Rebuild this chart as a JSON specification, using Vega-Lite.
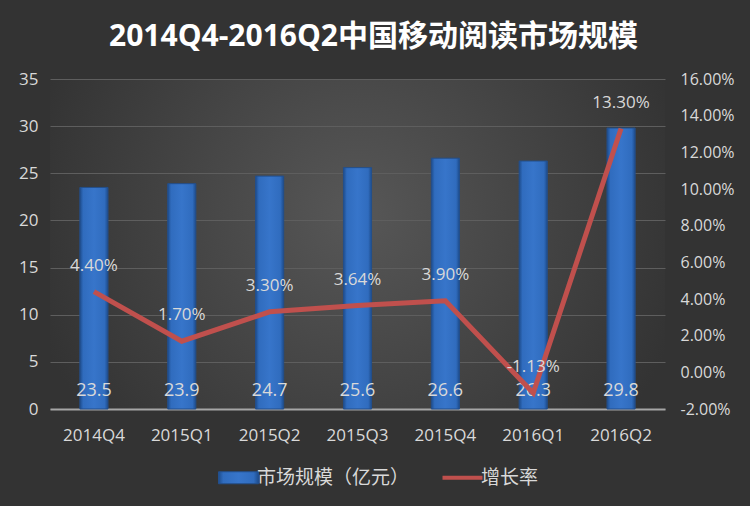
{
  "$schema": "https://vega.github.io/schema/vega-lite/v6.json",
  "width": 615,
  "height": 330,
  "autosize": {"type": "none"},
  "padding": {"left": 50, "top": 79, "right": 85, "bottom": 97},
  "background": "#333333",
  "config": {
    "view": {
      "stroke": null,
      "fill": {
        "gradient": "radial", "x1": 0.5, "y1": 0.45, "r1": 0, "x2": 0.5, "y2": 0.45, "r2": 0.55,
        "stops": [{"offset": 0, "color": "#575757"}, {"offset": 1, "color": "#333333"}]
      }
    },
    "locale": {"number": {"decimal": ".", "thousands": ",", "grouping": [3], "currency": ["", ""], "minus": "-"}},
    "axis": {"labelColor": "#d9d9d9", "labelFont": "Open Sans, Noto Sans CJK SC", "labelFontSize": 16, "title": null, "labelOverlap": false},
    "legend": {"labelColor": "#d9d9d9", "labelFont": "Noto Sans CJK SC", "labelFontSize": 19}
  },
  "title": {
    "text": "2014Q4-2016Q2中国移动阅读市场规模",
    "font": "Open Sans, Noto Sans CJK SC",
    "fontSize": 30,
    "fontWeight": "bold",
    "color": "#ffffff",
    "offset": 18,
    "dx": 16,
    "anchor": "middle"
  },
  "data": {
    "values": [
      {"q": "2014Q4", "size": 23.5, "rate": 0.044},
      {"q": "2015Q1", "size": 23.9, "rate": 0.017},
      {"q": "2015Q2", "size": 24.7, "rate": 0.033},
      {"q": "2015Q3", "size": 25.6, "rate": 0.0364},
      {"q": "2015Q4", "size": 26.6, "rate": 0.039},
      {"q": "2016Q1", "size": 26.3, "rate": -0.0113},
      {"q": "2016Q2", "size": 29.8, "rate": 0.133}
    ]
  },
  "encoding": {
    "x": {
      "field": "q", "type": "nominal", "sort": null,
      "scale": {"paddingInner": 0.68, "paddingOuter": 0.34},
      "axis": {"labelAngle": 0, "ticks": false, "domainColor": "#a6a6a6", "domainWidth": 2, "labelPadding": 18, "labelFontSize": 17}
    }
  },
  "layer": [
    {
      "layer": [
        {
          "mark": {
            "type": "bar",
            "fill": {
              "gradient": "linear", "x1": 0, "x2": 1, "y1": 0, "y2": 0,
              "stops": [
                {"offset": 0, "color": "#1d4c8c"},
                {"offset": 0.12, "color": "#306cbe"},
                {"offset": 0.5, "color": "#3775ca"},
                {"offset": 0.88, "color": "#306cbe"},
                {"offset": 1, "color": "#1d4c8c"}
              ]
            }
          },
          "encoding": {
            "y": {
              "field": "size", "type": "quantitative",
              "scale": {"domain": [0, 35]},
              "axis": {"values": [0, 5, 10, 15, 20, 25, 30, 35], "domain": false, "ticks": false, "gridColor": "#5e5e5e", "gridWidth": 1, "labelPadding": 12, "labelFontSize": 17}
            },
            "stroke": {
              "datum": "市场规模（亿元）",
              "type": "nominal",
              "scale": {"domain": ["市场规模（亿元）", "增长率"], "range": ["#234f8c", "#c0504d"]},
              "legend": {
                "orient": "none",
                "legendX": 179,
                "legendY": 389,
                "direction": "horizontal",
                "title": null,
                "symbolSize": 1600,
                "columnPadding": 24,
                "labelOffset": 9,
                "symbolType": {"expr": "datum.value === '增长率' ? 'M-1,0H1' : 'M-1,-0.3H1V0.3H-1Z'"},
                "symbolStrokeWidth": {"expr": "datum.value === '增长率' ? 4 : 1"}
              }
            }
          }
        },
        {
          "mark": {"type": "text", "color": "#d9d9d9", "fontSize": 18, "font": "Open Sans", "dy": -18},
          "encoding": {
            "y": {"datum": 0, "type": "quantitative",
              "axis": {"values": [0, 5, 10, 15, 20, 25, 30, 35], "domain": false, "ticks": false, "gridColor": "#5e5e5e", "gridWidth": 1, "labelPadding": 12, "labelFontSize": 17}},
            "text": {"field": "size", "type": "quantitative", "format": ".1f"}
          }
        }
      ]
    },
    {
      "layer": [
        {
          "mark": {"type": "line", "strokeWidth": 5},
          "encoding": {
            "y": {
              "field": "rate", "type": "quantitative",
              "scale": {"domain": [-0.02, 0.16]},
              "axis": {"orient": "right", "format": ".2%", "values": [-0.02, 0, 0.02, 0.04, 0.06, 0.08, 0.1, 0.12, 0.14, 0.16], "grid": false, "domain": false, "ticks": false, "labelPadding": 15}
            },
            "stroke": {"datum": "增长率", "type": "nominal"}
          }
        },
        {
          "mark": {"type": "text", "color": "#d9d9d9", "fontSize": 17, "font": "Open Sans", "dy": -26},
          "encoding": {
            "y": {"field": "rate", "type": "quantitative",
              "axis": {"orient": "right", "format": ".2%", "values": [-0.02, 0, 0.02, 0.04, 0.06, 0.08, 0.1, 0.12, 0.14, 0.16], "grid": false, "domain": false, "ticks": false, "labelPadding": 15}},
            "text": {"field": "rate", "type": "quantitative", "format": ".2%"}
          }
        }
      ]
    }
  ],
  "resolve": {"scale": {"y": "independent"}}
}
